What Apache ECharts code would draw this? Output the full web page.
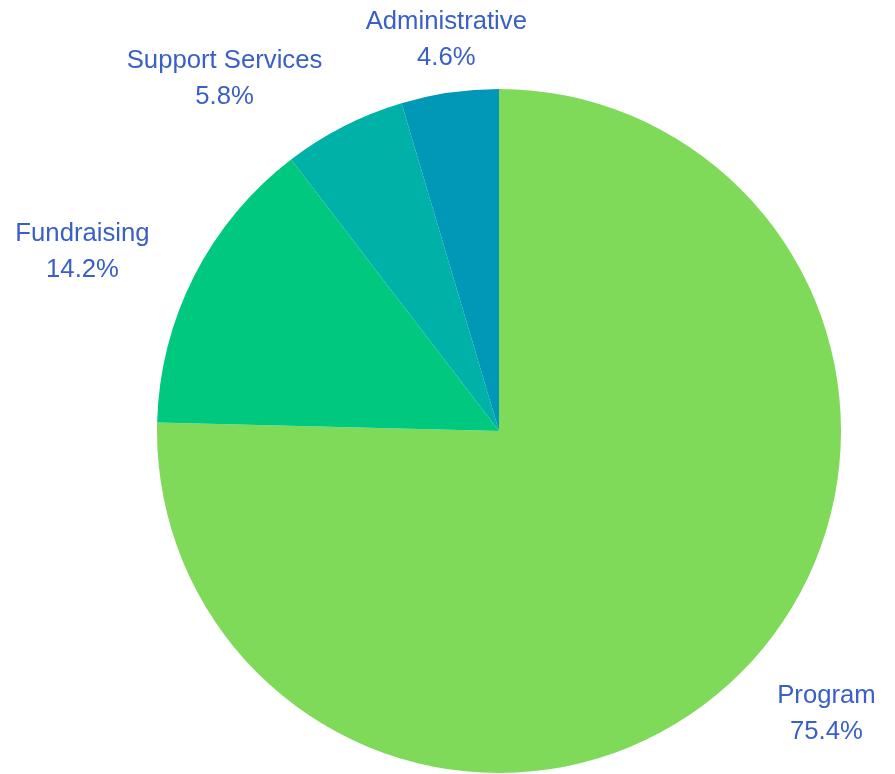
<!DOCTYPE html>
<html><head><meta charset="utf-8">
<script src="https://cdn.jsdelivr.net/npm/echarts@6/dist/echarts.min.js"></script>
<style>html,body{margin:0;padding:0;background:#fff}#c{width:895px;height:774px}</style>
</head><body><div id="c"></div>
<script>
const categories = ['Program', 'Fundraising', 'Support Services', 'Administrative'];
const values = [75.4, 14.2, 5.8, 4.6];
const colors = ['#80da5a', '#00c97f', '#00b1a8', '#0098b6'];

const CX = 499, CY = 431, R = 342, GAP = 24, GAPX = 42;
const total = values.reduce((a, b) => a + b, 0);
// mid angle (clockwise from top) of each slice, from the data
const midFrac = [];
let acc = 0;
values.forEach(v => { midFrac.push((acc + v / 2) / total); acc += v; });

function smooth(e0, e1, x) {
  const t = Math.min(1, Math.max(0, (x - e0) / (e1 - e0)));
  return t * t * (3 - 2 * t);
}

const chart = echarts.init(document.getElementById('c'));
chart.setOption({
  animation: false,
  series: [{
    type: 'pie',
    center: [CX, CY],
    radius: R,
    startAngle: 90,
    clockwise: true,
    data: categories.map((n, i) => ({ name: n, value: values[i], itemStyle: { color: colors[i] } })),
    label: {
      show: true,
      position: 'outside',
      formatter: p => p.name + '\n' + p.value.toFixed(1) + '%',
      color: '#3a60c8',
      fontFamily: '"Liberation Sans", Arial, sans-serif',
      fontSize: 25.7,
      lineHeight: 36,
      align: 'center'
    },
    labelLine: { show: false, length: 12, length2: 0 },
    labelLayout: function (params) {
      const a = midFrac[params.dataIndex] * 2 * Math.PI;
      const dx = Math.sin(a), dy = -Math.cos(a);
      const ex = CX + dx * R, ey = CY + dy * R;
      const w = params.labelRect.width, h = params.labelRect.height;
      const s = smooth(0.15, 0.4, Math.abs(dx));
      const sx = Math.sign(dx) * s;
      return {
        x: ex + dx * (GAP * (1 - s) + GAPX * s) + sx * (0.84 * w / 2 + h / 4),
        y: ey + dy * (0.8 * GAP + 0.47 * h),
        align: 'center',
        verticalAlign: 'middle'
      };
    }
  }]
});
</script></body></html>
